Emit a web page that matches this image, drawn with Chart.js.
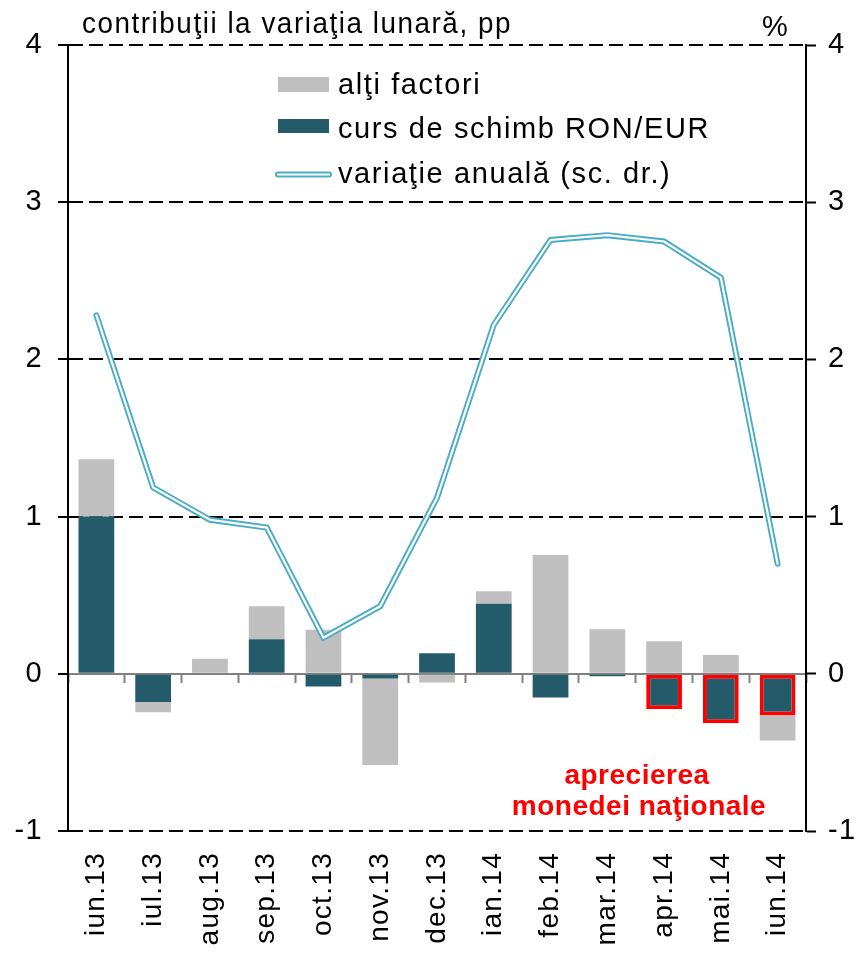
<!DOCTYPE html>
<html lang="ro">
<head>
   <meta charset="UTF-8">
   <title>Contribuţii la variaţia lunară</title>
   <script src="https://cdn.jsdelivr.net/npm/chart.js"></script>
   <style>
      body { margin: 0; background: #fff; }
      #wrap { width: 860px; height: 953px; }
   </style>
</head>
<body>
   <div id="wrap"><canvas id="chart" width="860" height="953"></canvas></div>

   <script>
      // data
      const months = ['iun.13', 'iul.13', 'aug.13', 'sep.13', 'oct.13', 'nov.13', 'dec.13',
                      'ian.14', 'feb.14', 'mar.14', 'apr.14', 'mai.14', 'iun.14'];
      const cursRonEur = [1.0, -0.18, 0.0, 0.22, -0.08, -0.03, 0.13, 0.445, -0.15, -0.015, -0.225, -0.315, -0.265];
      const altiFactori = [0.365, -0.065, 0.095, 0.21, 0.28, -0.55, -0.055, 0.08, 0.755, 0.283, 0.207, 0.12, -0.16];
      const variatieAnuala = [2.28, 1.185, 0.98, 0.93, 0.23, 0.43, 1.12, 2.22, 2.76, 2.79, 2.75, 2.52, 0.70];
      const highlighted = ['apr.14', 'mai.14', 'iun.14'];

      const DARK = '#235b6a';
      const GREY = '#bfbfbf';
      const BLUE = '#4bacc6';
      const RED = '#ff0000';
      const FONT = "'Liberation Sans', Arial, sans-serif";

      // Excel-like text is a bit wider than plain Arial
      const spacing = {
         id: 'spacing',
         beforeUpdate(chart) { chart.ctx.letterSpacing = '1.3px'; },
         beforeLayout(chart) { chart.ctx.letterSpacing = '1.3px'; },
         beforeDraw(chart) { chart.ctx.letterSpacing = '1.3px'; }
      };

      // titles, legend and note
      const extras = {
         id: 'extras',
         afterDraw(chart) {
            const ctx = chart.ctx;
            ctx.save();
            ctx.letterSpacing = '1.6px';
            ctx.fillStyle = '#000';
            ctx.textBaseline = 'alphabetic';
            ctx.font = '29px ' + FONT;
            ctx.textAlign = 'left';
            ctx.fillText('contribuţii la variaţia lunară, pp', 82, 33, 430);
            ctx.fillText('%', 762, 36);

            // legend
            const lx = 278, tx = 338;
            ctx.fillStyle = GREY;
            ctx.fillRect(lx, 77, 51, 15);
            ctx.fillStyle = DARK;
            ctx.fillRect(lx, 119, 51, 14);
            ctx.lineCap = 'round';
            ctx.strokeStyle = BLUE;
            ctx.lineWidth = 6;
            ctx.beginPath(); ctx.moveTo(lx, 174.5); ctx.lineTo(lx + 51, 174.5); ctx.stroke();
            ctx.strokeStyle = '#fff';
            ctx.lineWidth = 2.2;
            ctx.beginPath(); ctx.moveTo(lx, 174.5); ctx.lineTo(lx + 51, 174.5); ctx.stroke();
            ctx.fillStyle = '#000';
            ctx.fillText('alţi factori', tx, 94);
            ctx.fillText('curs de schimb RON/EUR', tx, 138);
            ctx.fillText('variaţie anuală (sc. dr.)', tx, 183);

            // note
            ctx.letterSpacing = '0.5px';
            ctx.fillStyle = RED;
            ctx.font = 'bold 28px ' + FONT;
            ctx.textAlign = 'center';
            ctx.fillText('aprecierea', 637, 784);
            ctx.fillText('monedei naţionale', 639, 815);
            ctx.restore();
         }
      };

      const isZero = c => c.tick && c.tick.value === 0;

      new Chart(document.getElementById('chart'), {
         data: {
            labels: months,
            datasets: [
               {
                  type: 'line', label: 'variaţie anuală (sc. dr.) inner', yAxisID: 'y2',
                  data: variatieAnuala, borderColor: '#fff', borderWidth: 2.2,
                  pointRadius: 0, tension: 0, borderCapStyle: 'round'
               },
               {
                  type: 'line', label: 'variaţie anuală (sc. dr.)', yAxisID: 'y2',
                  data: variatieAnuala, borderColor: BLUE, borderWidth: 6,
                  pointRadius: 0, tension: 0, borderCapStyle: 'round'
               },
               {
                  type: 'bar', label: 'curs de schimb RON/EUR', data: cursRonEur,
                  backgroundColor: DARK,
                  borderColor: months.map(m => highlighted.includes(m) ? RED : DARK),
                  borderWidth: months.map(m => highlighted.includes(m) ? 4 : 0),
                  borderSkipped: false,
                  barPercentage: 0.63, categoryPercentage: 1
               },
               {
                  type: 'bar', label: 'alţi factori', data: altiFactori,
                  backgroundColor: GREY, borderWidth: 0,
                  barPercentage: 0.63, categoryPercentage: 1
               }
            ]
         },
         options: {
            responsive: false,
            animation: false,
            layout: { padding: { top: 45, left: 0, right: 0, bottom: 0 } },
            plugins: { legend: { display: false }, tooltip: { enabled: false } },
            scales: {
               x: {
                  stacked: true,
                  grid: { display: false },
                  border: { display: false },
                  ticks: {
                     autoSkip: false, minRotation: 90, maxRotation: 90, padding: 13,
                     color: '#000', font: { family: FONT, size: 28 }
                  },
                  afterFit(s) { s.height = 122; }
               },
               x2: {
                  type: 'category',
                  position: { y: 0 },
                  offset: true,
                  grid: {
                     offset: true, drawOnChartArea: false, drawTicks: true,
                     tickLength: 9, tickColor: '#808080', tickWidth: 2
                  },
                  border: { display: false },
                  ticks: { display: false }
               },
               y: {
                  stacked: true, position: 'left', min: -1, max: 4,
                  ticks: {
                     stepSize: 1, padding: 15, color: '#000',
                     font: { family: FONT, size: 29 }
                  },
                  grid: {
                     color: c => isZero(c) ? '#808080' : '#000',
                     lineWidth: 2, tickLength: 10, tickColor: '#000', tickWidth: 2
                  },
                  border: {
                     display: true, color: '#000', width: 2,
                     dash: c => isZero(c) ? [] : [14, 6]
                  },
                  afterFit(s) { s.width = 68; }
               },
               y2: {
                  position: 'right', min: -1, max: 4,
                  ticks: {
                     stepSize: 1, padding: 12, color: '#000',
                     font: { family: FONT, size: 29 }
                  },
                  grid: {
                     drawOnChartArea: false, tickLength: 10, tickColor: '#000', tickWidth: 2
                  },
                  border: { display: true, color: '#000', width: 2 },
                  afterFit(s) { s.width = 54; }
               }
            }
         },
         plugins: [spacing, extras]
      });
   </script>
</body>
</html>
